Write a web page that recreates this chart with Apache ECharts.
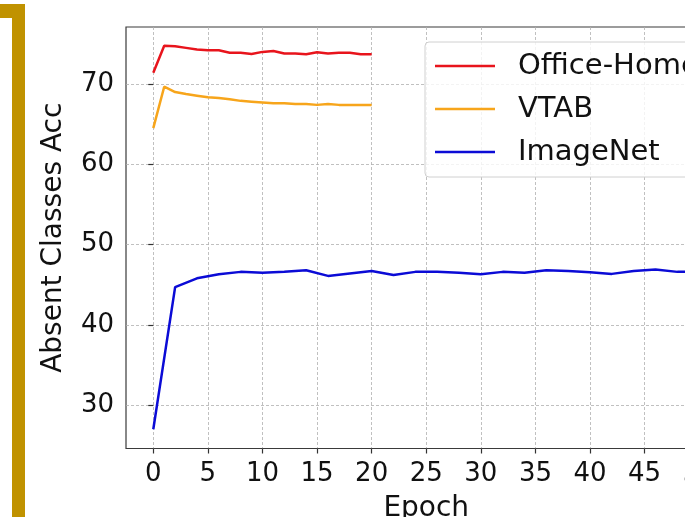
<!DOCTYPE html>
<html>
<head>
<meta charset="utf-8">
<script src="https://cdn.jsdelivr.net/npm/echarts@6/dist/echarts.min.js"></script>
<style>html,body{margin:0;padding:0;background:#fff;overflow:hidden;width:685px;height:517px;}#c{width:727px;height:517px;}</style>
</head>
<body>
<div id="c"></div>
<script>
// ---- data ----
const officeEpochs = [0,1,2,3,4,5,6,7,8,9,10,11,12,13,14,15,16,17,18,19,20];
const officeHome = [71.4,74.76,74.7,74.5,74.3,74.2,74.2,73.9,73.9,73.75,74.0,74.1,73.8,73.8,73.7,73.95,73.8,73.9,73.9,73.7,73.7];
const vtabEpochs = [0,1,2,3,4,5,6,7,8,9,10,11,12,13,14,15,16,17,18,19,20];
const vtab = [64.5,69.66,69.0,68.75,68.55,68.35,68.25,68.1,67.9,67.8,67.7,67.6,67.6,67.5,67.5,67.4,67.5,67.4,67.4,67.4,67.4];
const imagenetEpochs = [0,2,4,6,8,10,12,14,16,18,20,22,24,26,28,30,32,34,36,38,40,42,44,46,48,50];
const imagenet = [27.0,44.7,45.8,46.3,46.6,46.5,46.6,46.8,46.1,46.4,46.7,46.2,46.6,46.6,46.5,46.3,46.6,46.5,46.8,46.7,46.55,46.35,46.7,46.9,46.6,46.6];
const xTicks = [0,5,10,15,20,25,30,35,40,45,50];
const yTicks = [30,40,50,60,70];
const seriesNames = ['Office-Home','VTAB','ImageNet'];

const pair = (xs, ys) => xs.map((x, i) => [x, ys[i]]);
const FONT = 'DejaVu Sans';

const chart = echarts.init(document.getElementById('c'), null, {renderer: 'canvas'});
chart.setOption({
  animation: false,
  backgroundColor: '#ffffff',
  textStyle: {fontFamily: FONT},
  grid: {left: 126, top: 27, right: 0.5, height: 421.5, show: true, borderColor: '#3a3a3a', borderWidth: 1.2, containLabel: false, outerBoundsMode: 'none'},
  xAxis: {
    type: 'value', min: -2.5, max: 52.5,
    name: 'Epoch', nameLocation: 'middle', nameGap: 46,
    nameTextStyle: {fontSize: 28, color: '#111', fontFamily: FONT},
    axisLine: {show: false},
    axisTick: {show: true, length: 5, customValues: xTicks, lineStyle: {color: '#333', width: 1.2}},
    axisLabel: {customValues: xTicks, fontSize: 26, color: '#111', margin: 13, fontFamily: FONT},
    splitLine: {show: true, lineStyle: {color: '#b0b0b0', width: 0.8, type: [3, 2]}}
  },
  yAxis: {
    type: 'value', min: 24.6, max: 77.1,
    name: 'Absent Classes Acc', nameLocation: 'middle', nameGap: 58, nameRotate: 90,
    nameTextStyle: {fontSize: 28, color: '#111', fontFamily: FONT},
    axisLine: {show: false},
    axisTick: {show: true, length: 5, customValues: yTicks, lineStyle: {color: '#333', width: 1.2}},
    axisLabel: {customValues: yTicks, fontSize: 26, color: '#111', margin: 12, fontFamily: FONT},
    splitLine: {show: true, lineStyle: {color: '#b0b0b0', width: 0.8, type: [3, 2]}}
  },
  legend: {
    orient: 'vertical', left: 425, top: 42,
    data: seriesNames,
    icon: 'rect', itemWidth: 60, itemHeight: 2.5, itemGap: 13,
    padding: [9, 10, 10, 10],
    backgroundColor: 'rgba(255,255,255,0.8)', borderColor: '#d0d0d0', borderWidth: 1, borderRadius: 4,
    textStyle: {fontSize: 29, color: '#111', fontFamily: FONT, lineHeight: 30, padding: [0, 0, 0, 18]}
  },
  graphic: [
    {type: 'rect', shape: {x: 0, y: 4, width: 25, height: 14}, style: {fill: '#c09200'}, z: 100},
    {type: 'rect', shape: {x: 12, y: 4, width: 13, height: 513}, style: {fill: '#c09200'}, z: 100}
  ],
  series: [
    {name: seriesNames[0], type: 'line', data: pair(officeEpochs, officeHome), showSymbol: false, symbol: 'none', color: '#e8141c', lineStyle: {width: 2.5, color: '#e8141c'}},
    {name: seriesNames[1], type: 'line', data: pair(vtabEpochs, vtab), showSymbol: false, symbol: 'none', color: '#f7a51b', lineStyle: {width: 2.5, color: '#f7a51b'}},
    {name: seriesNames[2], type: 'line', data: pair(imagenetEpochs, imagenet), showSymbol: false, symbol: 'none', color: '#0b0bd6', lineStyle: {width: 2.5, color: '#0b0bd6'}}
  ]
});
</script>
</body>
</html>
